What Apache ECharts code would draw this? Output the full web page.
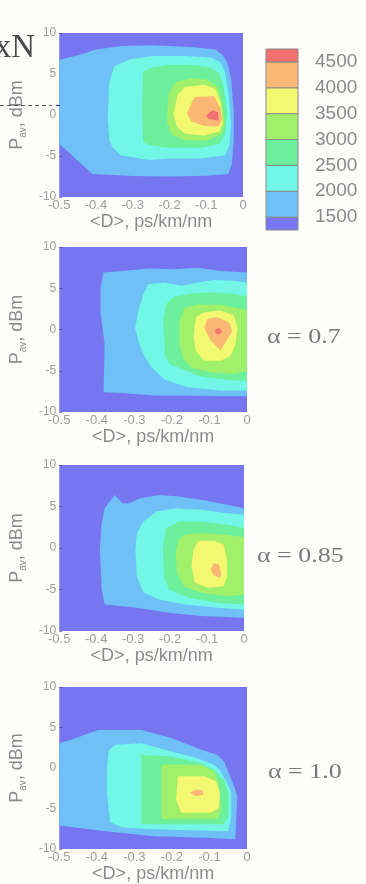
<!DOCTYPE html>
<html>
<head>
<meta charset="utf-8">
<script src="https://cdn.jsdelivr.net/npm/echarts@6/dist/echarts.min.js"></script>
<style>
  html, body { margin: 0; padding: 0; background: #fdfdfb; }
  #chart { width: 366px; height: 884px; }
</style>
</head>
<body>
<div id="chart"></div>
<script>
// Contour levels of the mapped quantity and the fill used above each level
const levels = [1500, 2000, 2500, 3000, 3500, 4000, 4500];
const levelColors = ['#7676f0', '#6ec0f6', '#72f6e6', '#6cf09c', '#a0f06c', '#f2f870', '#fbb874', '#f27070'];

// Axis ranges: mean dispersion <D> (ps/km/nm) and average power P_av (dBm)
const dispersionRange = [-0.5, 0];
const powerRange = [-10, 10];

// Filled contour outlines, [<D>, P_av] vertices, one outline per level (>=1500, >=2000, ...)
const contoursTop = [
  [[-0.5, 6.7], [-0.44, 7.4], [-0.40, 8.0], [-0.33, 8.4], [-0.25, 8.5], [-0.14, 8.3], [-0.075, 8.0], [-0.055, 7.3], [-0.042, 6.3], [-0.032, 4.3], [-0.025, 0.2], [-0.025, -3.1], [-0.03, -5.9], [-0.04, -7.2], [-0.10, -7.4], [-0.20, -7.5], [-0.30, -7.45], [-0.41, -7.2], [-0.5, -3.5]],
  [[-0.368, -0.2], [-0.364, 3.9], [-0.351, 5.9], [-0.307, 6.8], [-0.246, 7.2], [-0.158, 7.2], [-0.088, 7.0], [-0.061, 6.4], [-0.048, 5.1], [-0.038, 2.2], [-0.033, -1.0], [-0.037, -3.7], [-0.048, -4.9], [-0.114, -5.3], [-0.2, -5.3], [-0.254, -5.5], [-0.28, -5.3], [-0.333, -4.9], [-0.355, -3.9], [-0.364, -3.06]],
  [[-0.274, 1.0], [-0.272, 5.3], [-0.246, 5.8], [-0.202, 6.1], [-0.132, 6.1], [-0.088, 5.8], [-0.066, 5.1], [-0.053, 3.5], [-0.043, 0.2], [-0.048, -2.2], [-0.063, -3.5], [-0.114, -4.0], [-0.202, -4.0], [-0.254, -3.7], [-0.272, -3.3]],
  [[-0.206, 0.6], [-0.202, 2.65], [-0.184, 4.0], [-0.14, 4.5], [-0.096, 4.3], [-0.07, 3.5], [-0.056, 1.4], [-0.05, -1.0], [-0.058, -2.3], [-0.096, -3.1], [-0.158, -3.1], [-0.193, -2.4], [-0.206, -1.0]],
  [[-0.189, 0.2], [-0.178, 2.45], [-0.158, 3.4], [-0.105, 3.7], [-0.075, 3.2], [-0.06, 1.4], [-0.055, -1.0], [-0.064, -2.0], [-0.105, -2.5], [-0.158, -2.3], [-0.18, -1.4]],
  [[-0.153, 0.2], [-0.132, 2.2], [-0.079, 2.3], [-0.061, 0.8], [-0.057, -0.6], [-0.066, -1.43], [-0.105, -1.35], [-0.14, -0.8]],
  [[-0.101, -0.1], [-0.083, 0.6], [-0.068, 0.3], [-0.066, -0.7], [-0.093, -0.5]]
];

const contoursAlpha07 = [
  [[-0.382, -7.6], [-0.379, -1.8], [-0.39, 2.0], [-0.39, 5.1], [-0.382, 6.9], [-0.333, 7.1], [-0.263, 7.4], [-0.193, 7.3], [-0.132, 7.5], [-0.07, 7.1], [0, 6.9], [0, -8.1], [-0.07, -8.1], [-0.158, -8.0], [-0.246, -8.0], [-0.333, -7.7]],
  [[-0.298, 0.2], [-0.289, 2.3], [-0.276, 4.3], [-0.263, 5.5], [-0.219, 5.7], [-0.175, 5.3], [-0.132, 5.7], [-0.088, 6.0], [-0.035, 5.9], [0, 5.7], [0, -7.4], [-0.07, -7.4], [-0.158, -7.0], [-0.219, -6.1], [-0.254, -4.6], [-0.276, -3.0], [-0.289, -1.4]],
  [[-0.224, 1.0], [-0.215, 3.1], [-0.193, 4.0], [-0.14, 4.4], [-0.088, 4.5], [-0.035, 4.3], [0, 4.0], [0, -6.3], [-0.053, -6.1], [-0.123, -5.7], [-0.206, -4.2], [-0.219, -3.0], [-0.219, -1.8]],
  [[-0.18, 1.0], [-0.167, 2.6], [-0.132, 3.0], [-0.07, 3.0], [-0.026, 2.6], [0, 2.4], [0, -5.0], [-0.035, -5.4], [-0.096, -5.2], [-0.149, -4.6], [-0.171, -3.4], [-0.18, -1.8]],
  [[-0.14, 0.2], [-0.136, 1.5], [-0.114, 2.1], [-0.07, 2.3], [-0.035, 1.7], [-0.025, 0.2], [-0.031, -1.8], [-0.044, -3.2], [-0.07, -3.8], [-0.114, -3.8], [-0.136, -2.6], [-0.142, -1.0]],
  [[-0.114, 0.2], [-0.105, 1.3], [-0.079, 1.5], [-0.048, 0.85], [-0.039, -0.2], [-0.053, -1.2], [-0.07, -2.5], [-0.096, -1.4]],
  [[-0.083, 0.05], [-0.072, 0.15], [-0.067, -0.37], [-0.077, -0.65], [-0.085, -0.37]]
];

const contoursAlpha085 = [
  [[-0.377, -6.8], [-0.385, -5.0], [-0.39, -0.2], [-0.385, 3.0], [-0.377, 4.8], [-0.35, 6.4], [-0.329, 5.4], [-0.311, 5.4], [-0.281, 6.0], [-0.229, 6.4], [-0.176, 6.2], [-0.116, 5.8], [-0.046, 5.2], [0, 4.8], [0, -8.4], [-0.116, -8.2], [-0.203, -7.8], [-0.29, -7.2]],
  [[-0.29, 1.8], [-0.272, 3.2], [-0.237, 4.4], [-0.185, 4.8], [-0.116, 4.6], [-0.046, 4.2], [0, 4.0], [0, -7.4], [-0.072, -7.2], [-0.159, -6.8], [-0.229, -6.2], [-0.272, -5.4], [-0.29, -3.4], [-0.294, -0.2]],
  [[-0.22, -0.2], [-0.211, 2.4], [-0.176, 3.2], [-0.116, 3.2], [-0.046, 2.8], [0, 2.4], [0, -6.8], [-0.072, -6.6], [-0.15, -6.0], [-0.203, -5.0], [-0.216, -3.4]],
  [[-0.185, -0.6], [-0.176, 1.0], [-0.163, 1.6], [-0.116, 1.8], [-0.046, 1.6], [0, 1.3], [0, -5.6], [-0.046, -5.8], [-0.116, -5.4], [-0.163, -4.6], [-0.181, -3.0]],
  [[-0.142, -2.2], [-0.137, -0.2], [-0.124, 0.8], [-0.081, 0.9], [-0.055, 0.4], [-0.046, -1.4], [-0.046, -3.4], [-0.055, -4.6], [-0.098, -4.8], [-0.133, -4.2]],
  [[-0.091, -2.6], [-0.081, -1.8], [-0.068, -2.0], [-0.062, -3.0], [-0.063, -3.6], [-0.081, -3.3]]
];

const contoursAlpha10 = [
  [[-0.5, 3.06], [-0.46, 3.6], [-0.421, 4.3], [-0.395, 4.7], [-0.281, 4.7], [-0.202, 3.7], [-0.132, 2.45], [-0.079, 1.6], [-0.061, 0.8], [-0.031, -2.65], [-0.026, -3.5], [-0.031, -8.8], [-0.114, -8.6], [-0.246, -8.4], [-0.377, -7.8], [-0.5, -7.1]],
  [[-0.373, -0.2], [-0.368, 2.24], [-0.351, 2.86], [-0.281, 3.06], [-0.202, 2.04], [-0.132, 1.22], [-0.088, 0.41], [-0.07, -0.41], [-0.053, -1.8], [-0.042, -3.0], [-0.042, -6.0], [-0.05, -7.8], [-0.246, -7.55], [-0.333, -7.35], [-0.364, -6.7], [-0.373, -3.06]],
  [[-0.281, -1.84], [-0.281, 1.63], [-0.202, 1.43], [-0.123, 0.61], [-0.088, -0.2], [-0.062, -1.5], [-0.05, -3.0], [-0.05, -6.0], [-0.062, -6.94], [-0.281, -6.94]],
  [[-0.228, -1.8], [-0.228, 0.41], [-0.123, 0.41], [-0.088, -0.4], [-0.075, -1.84], [-0.068, -5.1], [-0.079, -6.3], [-0.228, -6.3]],
  [[-0.189, -3.9], [-0.184, -1.0], [-0.114, -1.0], [-0.083, -1.6], [-0.072, -3.06], [-0.075, -4.9], [-0.096, -5.5], [-0.175, -5.5]],
  [[-0.153, -3.06], [-0.136, -2.65], [-0.118, -2.73], [-0.116, -3.27], [-0.136, -3.47]]
];

// Panel annotations (twist-ratio values)
const panelLabels = ['', 'α = 0.7', 'α = 0.85', 'α = 1.0'];

const panels = [
  { contours: contoursTop,      box: { left: 53, top: 33,  width: 190, height: 164 } },
  { contours: contoursAlpha07,  box: { left: 57, top: 247, width: 190, height: 165 } },
  { contours: contoursAlpha085, box: { left: 53, top: 465, width: 191, height: 166 } },
  { contours: contoursAlpha10,  box: { left: 57, top: 687, width: 190, height: 165 } }
];

const tickColor = '#9c9c9c';
const titleColor = '#8c8c8c';
const sansFont = '"Liberation Sans", Arial, sans-serif';
const serifFont = '"Liberation Serif", "Times New Roman", serif';

const grid = [], xAxis = [], yAxis = [], series = [];

panels.forEach(function (panel, i) {
  grid.push(Object.assign({ show: true, backgroundColor: levelColors[0], borderWidth: 0 }, panel.box));
  xAxis.push({
    gridIndex: i, type: 'value', min: dispersionRange[0], max: dispersionRange[1], interval: 0.1,
    axisLine: { show: false, onZero: false }, axisTick: { show: false }, splitLine: { show: false },
    axisLabel: { color: tickColor, fontSize: 13, margin: 2, fontFamily: sansFont },
    name: '<D>, ps/km/nm', nameLocation: 'middle', nameGap: 15,
    nameTextStyle: { color: titleColor, fontSize: 18, fontFamily: sansFont }
  });
  yAxis.push({
    gridIndex: i, type: 'value', min: powerRange[0], max: powerRange[1], interval: 5,
    axisLine: { show: false, onZero: false },
    axisTick: { show: true, inside: true, length: 3, lineStyle: { color: 'rgba(50,50,90,0.55)' } },
    splitLine: { show: false },
    axisLabel: { color: tickColor, fontSize: 12, margin: 3, fontFamily: sansFont },
    name: '{m|P}{s|av}{m|, dBm}', nameLocation: 'middle', nameGap: 17, nameRotate: 90,
    nameTextStyle: {
      color: titleColor, fontFamily: sansFont,
      rich: {
        m: { fontSize: 18, color: titleColor, fontFamily: sansFont, lineHeight: 22 },
        s: { fontSize: 10, color: titleColor, fontFamily: sansFont, lineHeight: 12, verticalAlign: 'bottom' }
      }
    }
  });
  const outlines = panel.contours;
  series.push({
    type: 'custom', xAxisIndex: i, yAxisIndex: i, silent: true, clip: true,
    data: outlines.map(function (poly) { return poly[0]; }),
    renderItem: function (params, api) {
      const poly = outlines[params.dataIndex];
      return {
        type: 'polygon',
        shape: { points: poly.map(function (p) { return api.coord(p); }) },
        style: { fill: levelColors[params.dataIndex + 1] }
      };
    }
  });
});

// Colour key: one band per interval, end bands half a step wide
const step = levels[1] - levels[0];
const bandEdges = [levels[0] - step / 2].concat(levels, [levels[levels.length - 1] + step / 2]);
const keyIndex = panels.length;
grid.push({ left: 266, top: 49, width: 32, height: 181 });
xAxis.push({ gridIndex: keyIndex, type: 'value', min: 0, max: 1, show: false });
yAxis.push({
  gridIndex: keyIndex, type: 'value', position: 'right',
  min: bandEdges[0], max: bandEdges[bandEdges.length - 1],
  axisLine: { show: false, onZero: false }, axisTick: { show: false }, splitLine: { show: false },
  axisLabel: {
    customValues: levels, color: '#8a8a8a', fontSize: 19, margin: 17, fontFamily: sansFont,
    formatter: function (v) { return String(v); }
  }
});
series.push({
  type: 'custom', xAxisIndex: keyIndex, yAxisIndex: keyIndex, silent: true,
  data: bandEdges.slice(0, -1).map(function (lo, k) { return [lo, bandEdges[k + 1]]; }),
  renderItem: function (params, api) {
    const lo = api.value(0), hi = api.value(1);
    const a = api.coord([0, hi]), b = api.coord([1, lo]);
    return {
      type: 'rect',
      shape: { x: a[0], y: a[1], width: b[0] - a[0], height: b[1] - a[1] },
      style: { fill: levelColors[params.dataIndex], stroke: '#8a8a8a', lineWidth: 1 }
    };
  }
});

const graphic = [
  { type: 'text', x: 35, y: 32, z: 10,
    style: { text: 'xN', font: '33px ' + serifFont, fill: '#4a4a4a', align: 'right', verticalAlign: 'alphabetic' } },
  { type: 'line', z: 10, shape: { x1: 0, y1: 105.5, x2: 52, y2: 105.5 },
    style: { stroke: '#555', lineWidth: 1, lineDash: [4, 3] } },
  { type: 'line', z: 10, shape: { x1: 56, y1: 105.5, x2: 60, y2: 105.5 },
    style: { stroke: '#1f3f9f', lineWidth: 1.2 } }
];
const labelPos = [null, [267, 338], [257, 557], [268, 773]];
panelLabels.forEach(function (txt, i) {
  if (!txt) return;
  graphic.push({ type: 'text', x: labelPos[i][0], y: labelPos[i][1], z: 10, scaleX: 1.3,
    style: { text: txt, font: '20px ' + serifFont, fill: '#7a7a7a', verticalAlign: 'middle' } });
});

const chart = echarts.init(document.getElementById('chart'), null, { renderer: 'canvas' });
chart.setOption({
  backgroundColor: '#fdfdfb',
  animation: false,
  grid: grid, xAxis: xAxis, yAxis: yAxis, series: series, graphic: graphic
});
</script>
</body>
</html>
